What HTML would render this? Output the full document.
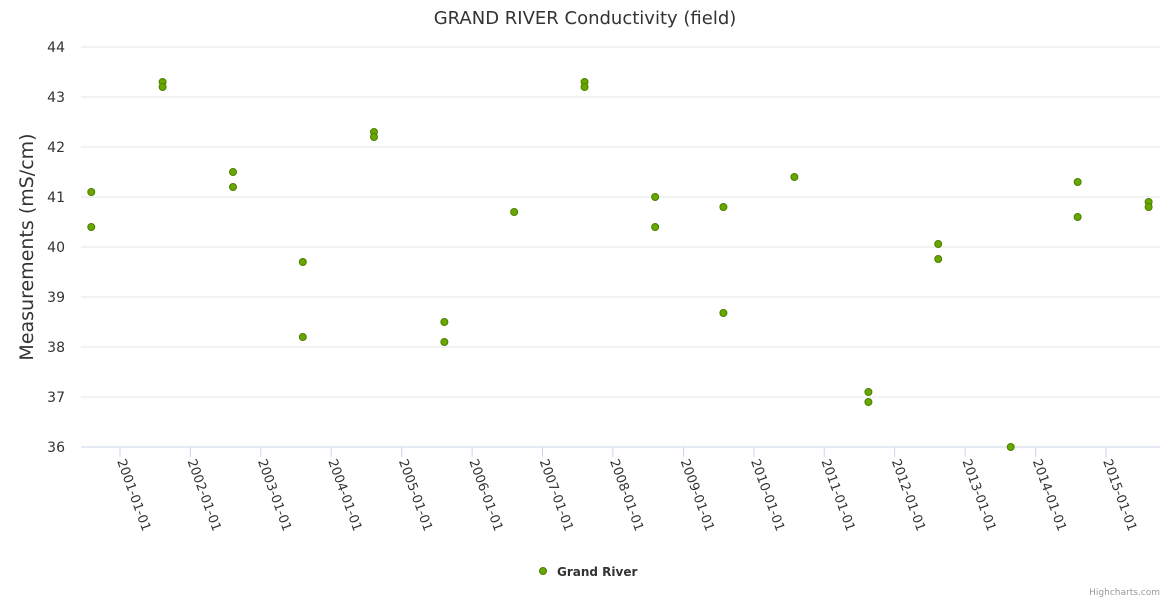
<!DOCTYPE html>
<html><head><meta charset="utf-8"><style>
body{margin:0;background:#fff;}
svg{display:block;font-family:"DejaVu Sans","Liberation Sans",sans-serif;}
</style></head><body>
<svg id="chart" width="1170" height="600">
<text x="585" y="24" text-anchor="middle" font-size="18" fill="#333">GRAND RIVER Conductivity (field)</text>
<text transform="translate(33,247) rotate(-90)" text-anchor="middle" font-size="19" fill="#333">Measurements (mS/cm)</text>
<g id="grid"></g>
<g id="xaxis"></g>
<g id="points"></g>
<g>
<circle cx="543" cy="571" r="3.5" fill="#6aa600" stroke="#4a8000" stroke-width="1"/>
<text x="557" y="576" font-size="12" font-weight="bold" fill="#333">Grand River</text>
</g>
<text x="1160" y="595" text-anchor="end" font-size="9" fill="#999">Highcharts.com</text>
</svg>
<script>
const dates = ["2000-08-05","2000-08-05","2001-08-10","2001-08-10","2002-08-10","2002-08-10","2003-08-07","2003-08-07","2004-08-10","2004-08-10","2005-08-10","2005-08-10","2006-08-07","2007-08-07","2007-08-07","2008-08-07","2008-08-07","2009-07-27","2009-07-27","2010-07-30","2011-08-18","2011-08-18","2012-08-14","2012-08-14","2013-08-25","2014-08-07","2014-08-07","2015-08-10","2015-08-10"];
const values = [41.1,40.4,43.3,43.2,41.5,41.2,39.7,38.2,42.3,42.2,38.5,38.1,40.7,43.3,43.2,41.0,40.4,40.8,38.68,41.4,37.1,36.9,40.06,39.76,36.0,41.3,40.6,40.9,40.8];
const yTicks = [36,37,38,39,40,41,42,43,44];
const xTickLabels = ["2001-01-01","2002-01-01","2003-01-01","2004-01-01","2005-01-01","2006-01-01","2007-01-01","2008-01-01","2009-01-01","2010-01-01","2011-01-01","2012-01-01","2013-01-01","2014-01-01","2015-01-01"];
const NS="http://www.w3.org/2000/svg";
const t0=Date.UTC(2001,0,1), t1=Date.UTC(2015,0,1);
function xs(d){const t=Date.parse(d+"T00:00:00Z");return 120+(t-t0)/(t1-t0)*986;}
function ys(v){return 447-(v-36)*50;}
function mk(tag,attrs,parent){const e=document.createElementNS(NS,tag);for(const k in attrs)e.setAttribute(k,attrs[k]);parent.appendChild(e);return e;}
const grid=document.getElementById('grid');
yTicks.forEach(v=>{
  const l=mk('line',{x1:81,x2:1160,y1:ys(v),y2:ys(v),stroke:v===36?'#ccd6eb':'#e6e6e6','stroke-width':1},grid);
  
  
  const t=mk('text',{x:65,y:ys(v)+5,'text-anchor':'end','font-size':14,fill:'#333'},grid);
  t.textContent=v;
  
  
});
const xa=document.getElementById('xaxis');
xTickLabels.forEach(d=>{
  const x=xs(d);
  const l=mk('line',{x1:x,x2:x,y1:447,y2:457,stroke:'#ccd6eb'},xa);
  
  
  const t=mk('text',{transform:`translate(${x-3},${461}) rotate(70)`,'font-size':13,fill:'#333'},xa);
  t.textContent=d;
  
  
});
const pts=document.getElementById('points');
dates.forEach((d,i)=>{
  const c=mk('circle',{cx:xs(d),cy:ys(values[i]),r:3.5,fill:'#6aa600',stroke:'#4a8000','stroke-width':1},pts);
  
  
});
</script>
</body></html>
